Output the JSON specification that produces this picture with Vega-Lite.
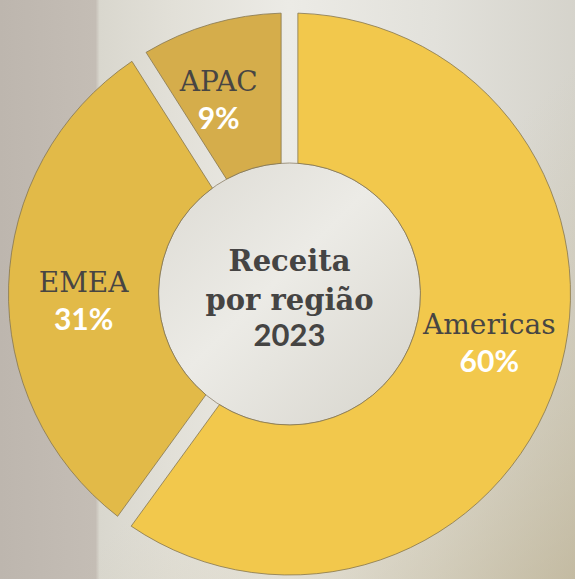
{
  "$schema": "https://vega.github.io/schema/vega-lite/v6.json",
  "width": 575,
  "height": 579,
  "autosize": {"type": "fit", "contains": "padding"},
  "padding": {"left": 0, "top": 0, "right": -4, "bottom": -9},
  "background": "#e3e1da",
  "config": {"view": {"stroke": null}},
  "datasets": {
    "regions": [
      {"region": "Americas", "value": 60, "pct": "60%", "ord": 1},
      {"region": "EMEA", "value": 31, "pct": "31%", "ord": 2},
      {"region": "APAC", "value": 9, "pct": "9%", "ord": 3}
    ],
    "center": [
      {"l1": "Receita", "l2": "por região", "l3": "2023"}
    ]
  },
  "resolve": {"scale": {"theta": "independent"}},
  "layer": [
    {
      "data": {"name": "center"},
      "mark": {
        "type": "rect",
        "fill": {
          "gradient": "linear",
          "x1": 0, "y1": 0, "x2": 1, "y2": 0,
          "stops": [
            {"offset": 0, "color": "#bdb6ae"},
            {"offset": 0.165, "color": "#c4bdb5"},
            {"offset": 0.172, "color": "#d9d7ce"},
            {"offset": 0.3, "color": "#e2e0d8"},
            {"offset": 0.5, "color": "#ecebe6"},
            {"offset": 0.75, "color": "#e2e1db"},
            {"offset": 1, "color": "#d5d3cb"}
          ]
        }
      },
      "encoding": {}
    },
    {
      "data": {"name": "center"},
      "mark": {
        "type": "rect",
        "fill": {
          "gradient": "linear",
          "x1": 0, "y1": 0, "x2": 1, "y2": 1,
          "stops": [
            {"offset": 0, "color": "rgba(200,190,160,0)"},
            {"offset": 0.55, "color": "rgba(200,190,160,0)"},
            {"offset": 1, "color": "rgba(180,165,125,0.55)"}
          ]
        }
      },
      "encoding": {}
    },
    {
      "data": {"name": "center"},
      "mark": {
        "type": "arc",
        "theta": 0,
        "theta2": 6.2832,
        "innerRadius": 0,
        "outerRadius": 131,
        "stroke": "#8d8068",
        "strokeWidth": 0.8,
        "fill": {
          "gradient": "linear",
          "x1": 0, "y1": 0, "x2": 1, "y2": 1,
          "stops": [
            {"offset": 0, "color": "#dcdad3"},
            {"offset": 0.45, "color": "#ecebe6"},
            {"offset": 1, "color": "#d6d4cc"}
          ]
        }
      },
      "encoding": {}
    },
    {
      "data": {"name": "regions"},
      "mark": {
        "type": "arc",
        "outerRadius": 281,
        "innerRadius": 131,
        "padAngle": 0.054,
        "stroke": "#85764f",
        "strokeWidth": 0.8
      },
      "encoding": {
        "theta": {"field": "value", "type": "quantitative", "stack": true},
        "order": {"field": "ord", "type": "quantitative"},
        "color": {
          "field": "region",
          "type": "nominal",
          "scale": {
            "domain": ["Americas", "EMEA", "APAC"],
            "range": ["#f2c84c", "#e2ba48", "#d5ad4b"]
          },
          "legend": null
        }
      }
    },
    {
      "data": {"name": "regions"},
      "mark": {
        "type": "text",
        "radius": 206,
        "dy": -18,
        "font": "DejaVu Serif",
        "fontSize": 28,
        "fontWeight": "normal",
        "color": "#474543",
        "baseline": "middle",
        "align": "center"
      },
      "encoding": {
        "theta": {"field": "value", "type": "quantitative", "stack": true, "scale": {"range": [-0.068, 6.2152]}},
        "order": {"field": "ord", "type": "quantitative"},
        "detail": {"field": "region", "type": "nominal"},
        "text": {"field": "region", "type": "nominal"}
      }
    },
    {
      "data": {"name": "regions"},
      "mark": {
        "type": "text",
        "radius": 206,
        "dy": 19,
        "font": "Lato",
        "fontSize": 30,
        "fontWeight": "bold",
        "color": "#ffffff",
        "baseline": "middle",
        "align": "center"
      },
      "encoding": {
        "theta": {"field": "value", "type": "quantitative", "stack": true, "scale": {"range": [-0.068, 6.2152]}},
        "order": {"field": "ord", "type": "quantitative"},
        "detail": {"field": "region", "type": "nominal"},
        "text": {"field": "pct", "type": "nominal"}
      }
    },
    {
      "data": {"name": "center"},
      "mark": {
        "type": "text",
        "dy": -23,
        "font": "DejaVu Serif",
        "fontSize": 29,
        "fontWeight": "bold",
        "color": "#454443",
        "baseline": "alphabetic",
        "align": "center"
      },
      "encoding": {"text": {"field": "l1", "type": "nominal"}}
    },
    {
      "data": {"name": "center"},
      "mark": {
        "type": "text",
        "dy": 16,
        "font": "DejaVu Serif",
        "fontSize": 29,
        "fontWeight": "bold",
        "color": "#454443",
        "baseline": "alphabetic",
        "align": "center"
      },
      "encoding": {"text": {"field": "l2", "type": "nominal"}}
    },
    {
      "data": {"name": "center"},
      "mark": {
        "type": "text",
        "dy": 52,
        "font": "Lato",
        "fontSize": 31,
        "fontWeight": "bold",
        "color": "#454443",
        "baseline": "alphabetic",
        "align": "center"
      },
      "encoding": {"text": {"field": "l3", "type": "nominal"}}
    }
  ]
}
